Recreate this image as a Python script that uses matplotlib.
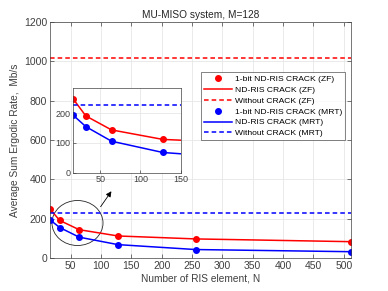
import matplotlib
matplotlib.use("Agg")
import matplotlib.pyplot as plt
from matplotlib.patches import Ellipse

plt.rcParams['font.family'] = ['Liberation Sans', 'DejaVu Sans']

N = [16, 32, 64, 128, 256, 512]
zf_1bit = [249, 191, 144, 112, 97, 83]
mrt_1bit = [194, 155, 106, 68, 43, 32]
zf_without = 1015
mrt_without = 228
xticks = [50, 100, 150, 200, 250, 300, 350, 400, 450, 500]
yticks = [0, 200, 400, 600, 800, 1000, 1200]

W, H = 388, 291
fig = plt.figure(figsize=(W/100, H/100), dpi=100)
ax = fig.add_axes([50/W, 1-258/H, 301/W, 236/H])

red = '#ff0000'
blue = '#0000ff'
fs = 7.5
tc = '#404040'

ax.plot(N, zf_1bit, 'o', color=red, ms=4, label='1-bit ND-RIS CRACK (ZF)')
ax.plot(N, zf_1bit, '-', color=red, lw=1.1, label='ND-RIS CRACK (ZF)')
ax.axhline(zf_without, color=red, ls='--', lw=1.1, dashes=(3, 2), label='Without CRACK (ZF)')
ax.plot(N, mrt_1bit, 'o', color=blue, ms=4, label='1-bit ND-RIS CRACK (MRT)')
ax.plot(N, mrt_1bit, '-', color=blue, lw=1.1, label='ND-RIS CRACK (MRT)')
ax.axhline(mrt_without, color=blue, ls='--', lw=1.1, dashes=(3, 2), label='Without CRACK (MRT)')

ax.set_xlim(16, 512)
ax.set_ylim(0, 1200)
ax.set_xticks(xticks)
ax.set_yticks(yticks)
ax.grid(True, color='#e6e6e6', lw=0.6)
ax.set_axisbelow(True)
ax.tick_params(direction='in', labelsize=fs, length=3, width=0.5, colors=tc, top=True, right=True, pad=2)
for s in ax.spines.values():
    s.set_color(tc); s.set_linewidth(0.5)
ax.set_title('MU-MISO system, M=128', fontsize=7.3, pad=3, color='#262626')
ax.set_xlabel('Number of RIS element, N', fontsize=7.3, labelpad=2, color=tc)
ax.set_ylabel('Average Sum Ergodic Rate,  Mb/s', fontsize=7.3, labelpad=3, color=tc)

leg = ax.legend(loc='upper right', bbox_to_anchor=(345/W, 1-72/H), bbox_transform=fig.transFigure,
                fontsize=6.1, frameon=True, fancybox=False, edgecolor='#262626',
                handlelength=3.3, handletextpad=0.3, borderpad=0.35, labelspacing=0.35,
                borderaxespad=0)
leg.get_frame().set_linewidth(0.5)

ell = Ellipse((77.5, H-223), 51, 45, transform=None, fill=False, ec='#262626', lw=0.6)
ax.add_patch(ell)
ax.annotate('', xy=(113/W, 1-189/H), xytext=(99/W, 1-209/H), xycoords='figure fraction',
            textcoords='figure fraction',
            arrowprops=dict(arrowstyle='-|>', color='black', lw=0.6, mutation_scale=8))

ins = fig.add_axes([73/W, 1-172.7/H, 107.5/W, 85/H])
ins.plot(N, zf_1bit, '-', color=red, lw=1.1, marker='o', ms=4)
ins.plot(N, mrt_1bit, '-', color=blue, lw=1.1, marker='o', ms=4)
ins.axhline(mrt_without, color=blue, ls='--', lw=1.1, dashes=(3, 2))
ins.set_xlim(16, 150)
ins.set_ylim(0, 286)
ins.set_xticks([50, 100, 150])
ins.set_yticks([0, 100, 200])
ins.grid(True, color='#e6e6e6', lw=0.6)
ins.tick_params(direction='in', labelsize=6.5, length=2, width=0.5, colors=tc, pad=2)
for s in ins.spines.values():
    s.set_color(tc); s.set_linewidth(0.5)

fig.savefig('out.png', dpi=100)
